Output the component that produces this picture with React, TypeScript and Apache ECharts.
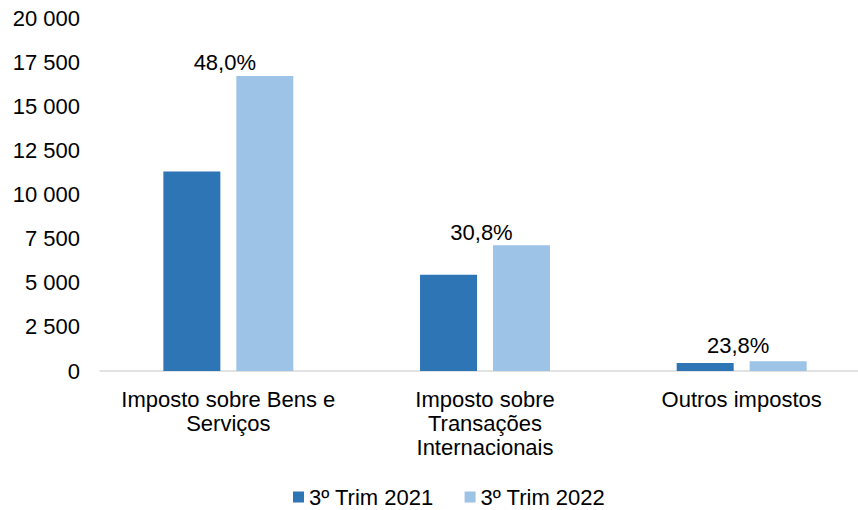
import React, { useEffect, useRef } from "react";
import * as echarts from "echarts";

const categories = [
  "Imposto sobre Bens e\nServiços",
  "Imposto sobre\nTransações\nInternacionais",
  "Outros impostos",
];
const seriesNames = ["3º Trim 2021", "3º Trim 2022"];
const values2021 = [11300, 5450, 450];
const values2022 = [16720, 7130, 557];
const growthLabels = ["48,0%", "30,8%", "23,8%"];

const FONT = "Liberation Sans, Arial, sans-serif";
const FS = 22;

export default function App() {
  const ref = useRef<HTMLDivElement>(null);
  useEffect(() => {
    if (!ref.current) return;
    const chart = echarts.init(ref.current, undefined, { renderer: "svg" });
    const labelYOffsets = [3, 3, 0];
    chart.setOption({
      animation: false,
      textStyle: { fontFamily: FONT },
      grid: { left: 100, right: 0, top: 18, height: 353 },
      legend: {
        top: 486,
        left: 293,
        padding: 0,
        itemWidth: 11,
        itemHeight: 11,
        itemGap: 31,
        icon: "rect",
        textStyle: { fontSize: FS, color: "#000", fontFamily: FONT },
        data: seriesNames,
      },
      xAxis: {
        type: "category",
        data: categories,
        axisLine: { lineStyle: { color: "#D9D9D9", width: 1.5 } },
        axisTick: { show: false },
        axisLabel: {
          interval: 0,
          margin: 16,
          fontSize: FS,
          lineHeight: 24,
          color: "#000",
          fontFamily: FONT,
        },
      },
      yAxis: {
        type: "value",
        min: 0,
        max: 20000,
        interval: 2500,
        splitLine: { show: false },
        axisLine: { show: false },
        axisLabel: {
          margin: 20,
          fontSize: FS,
          color: "#000",
          fontFamily: FONT,
          formatter: (v: number) =>
            String(v).replace(/\B(?=(\d{3})+(?!\d))/g, " "),
        },
      },
      series: [
        {
          name: seriesNames[0],
          type: "bar",
          data: values2021,
          barWidth: 57,
          barGap: "28%",
          itemStyle: { color: "#2E75B6" },
        },
        {
          name: seriesNames[1],
          type: "bar",
          data: values2022.map((v, i) => ({
            value: v,
            label: {
              show: true,
              position: "top",
              offset: [-40, labelYOffsets[i]],
              formatter: growthLabels[i],
              fontSize: FS,
              color: "#000",
              fontFamily: FONT,
            },
          })),
          barWidth: 57,
          itemStyle: { color: "#9DC3E6" },
        },
      ],
    });
    return () => chart.dispose();
  }, []);
  return (
    <div
      style={{
        position: "fixed",
        left: 0,
        top: 0,
        width: 858,
        height: 510,
        overflow: "hidden",
        background: "#fff",
      }}
    >
      <div ref={ref} style={{ width: 870, height: 510 }} />
    </div>
  );
}
